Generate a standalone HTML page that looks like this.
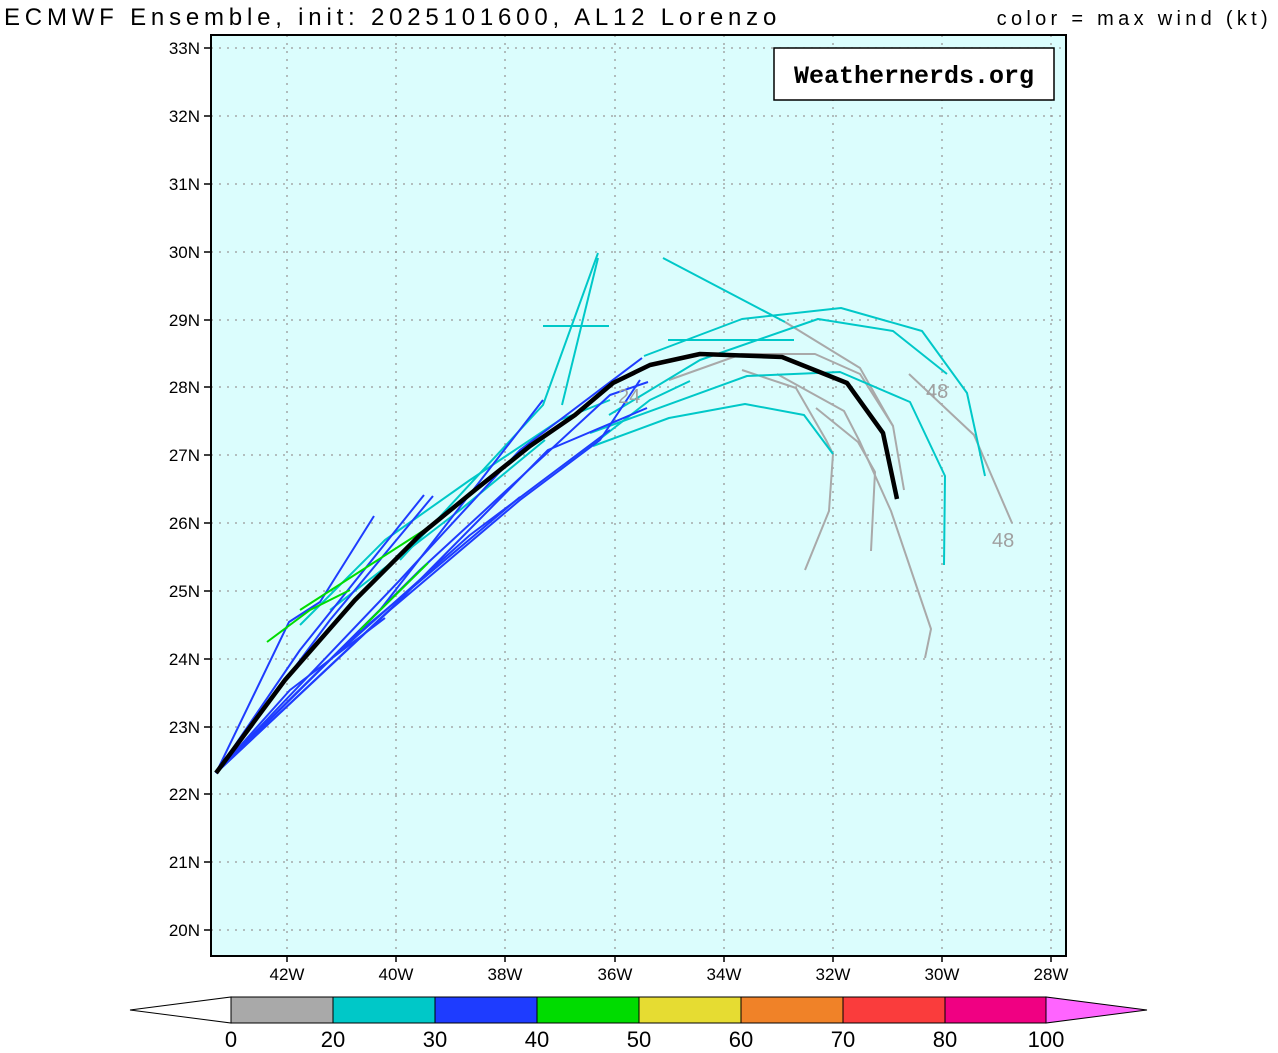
<!DOCTYPE html><html><head><style>body{margin:0;background:#fff}svg{display:block}</style></head><body>
<svg width="1278" height="1053" xmlns="http://www.w3.org/2000/svg" font-family="Liberation Sans, sans-serif">
<rect width="1278" height="1053" fill="#fff"/>
<text x="4" y="25" font-size="24" letter-spacing="4.8" fill="#000">ECMWF Ensemble, init: 2025101600, AL12 Lorenzo</text>
<text x="1272" y="25" font-size="20" letter-spacing="4.3" text-anchor="end" fill="#000">color = max wind (kt)</text>
<rect x="211" y="35" width="855" height="921" fill="#dbfdfd"/>
<g stroke="#999" stroke-width="1.3" stroke-dasharray="2,6">
<path d="M287 35V956M396 35V956M505 35V956M615 35V956M724 35V956M833 35V956M942 35V956M1051 35V956"/>
<path d="M211 48H1066M211 116H1066M211 184H1066M211 252H1066M211 320H1066M211 387H1066M211 455H1066M211 523H1066M211 591H1066M211 659H1066M211 727H1066M211 794H1066M211 862H1066M211 930H1066"/>
</g>
<g fill="none" stroke-width="2" stroke-linejoin="round">
<g stroke="#a9a9a9">
<polyline points="669,380 742,354 815,354 860,374 893,426 904,490"/>
<polyline points="742,370 796,388 826,440 833,454 829,511 805,570"/>
<polyline points="777,374 844,411 860,442 891,511 931,629 925,658"/>
<polyline points="816,408 858,442 875,472 871,551"/>
<polyline points="909,374 974,435 1012,523"/>
<polyline points="785,322 860,368 893,426"/>
</g>
<g stroke="#00c8c8">
<polyline points="663,258 785,322"/>
<polyline points="644,356 742,319 841,308 922,331 967,393 985,476"/>
<polyline points="609,415 700,360 818,319 893,331 947,374"/>
<polyline points="590,433 747,376 840,372 910,402 945,476 944,565"/>
<polyline points="593,446 669,418 745,404 804,415 833,454"/>
<polyline points="560,470 650,400 690,381"/>
<polyline points="400,560 543,405 598,253"/>
<polyline points="562,405 598,258"/>
<polyline points="543,326 609,326"/><polyline points="668,340 794,340"/>
<polyline points="300,625 385,540 470,480 560,420 610,400"/>
<polyline points="330,610 460,510 545,440"/>
</g>
<g stroke="#1e3cff">
<polyline points="216,773 289,622 320,602 374,516"/>
<polyline points="216,773 300,650 424,495"/>
<polyline points="216,773 330,620 433,496"/>
<polyline points="216,773 380,610 543,400"/>
<polyline points="216,773 400,580 520,450 642,358"/>
<polyline points="216,773 420,570 610,395 648,382"/>
<polyline points="216,773 390,610 520,500 600,440 640,380"/>
<polyline points="216,773 350,640 520,497"/>
<polyline points="216,773 400,600 548,450 647,408"/>
<polyline points="216,773 330,660 470,535 610,430"/>
<polyline points="216,773 290,690 385,618"/>
</g>
<g stroke="#00dc00">
<polyline points="267,642 310,610 350,590"/>
<polyline points="360,630 428,563"/>
<polyline points="300,610 440,520"/>
</g>
<polyline stroke="#000" stroke-width="4.5" points="216,773 285,680 355,600 420,535 475,490 530,446 575,415 613,383 650,365 700,354 782,357 847,383 883,433 897,499"/>
</g>
<g fill="#a0a0a0" font-size="20"><text x="618" y="403">24</text><text x="926" y="398">48</text><text x="992" y="547">48</text></g>
<rect x="211" y="35" width="855" height="921" fill="none" stroke="#000" stroke-width="2"/>
<rect x="774" y="48" width="280" height="52" fill="#fff" stroke="#000" stroke-width="1.5"/>
<text x="914" y="83" font-size="25" font-weight="bold" text-anchor="middle" font-family="Liberation Mono, monospace">Weathernerds.org</text>
<g font-size="17" text-anchor="end" fill="#000">
<text x="200" y="54">33N</text><text x="200" y="122">32N</text><text x="200" y="190">31N</text><text x="200" y="258">30N</text><text x="200" y="326">29N</text><text x="200" y="393">28N</text><text x="200" y="461">27N</text><text x="200" y="529">26N</text><text x="200" y="597">25N</text><text x="200" y="665">24N</text><text x="200" y="733">23N</text><text x="200" y="800">22N</text><text x="200" y="868">21N</text><text x="200" y="936">20N</text>
</g>
<g stroke="#000" stroke-width="1.5"><path d="M204 48H211M204 116H211M204 184H211M204 252H211M204 320H211M204 387H211M204 455H211M204 523H211M204 591H211M204 659H211M204 727H211M204 794H211M204 862H211M204 930H211M287 956V962M396 956V962M505 956V962M615 956V962M724 956V962M833 956V962M942 956V962M1051 956V962"/></g>
<g font-size="17" text-anchor="middle">
<text x="287" y="980">42W</text><text x="396" y="980">40W</text><text x="505" y="980">38W</text><text x="615" y="980">36W</text><text x="724" y="980">34W</text><text x="833" y="980">32W</text><text x="942" y="980">30W</text><text x="1051" y="980">28W</text>
</g>
<g stroke="#000" stroke-width="1">
<polygon points="231,997 231,1023 130,1010" fill="#fff"/>
<rect x="231" y="997" width="102" height="26" fill="#a9a9a9"/>
<rect x="333" y="997" width="102" height="26" fill="#00c8c8"/>
<rect x="435" y="997" width="102" height="26" fill="#1e3cff"/>
<rect x="537" y="997" width="102" height="26" fill="#00dc00"/>
<rect x="639" y="997" width="102" height="26" fill="#e6dc32"/>
<rect x="741" y="997" width="102" height="26" fill="#f08228"/>
<rect x="843" y="997" width="102" height="26" fill="#fa3c3c"/>
<rect x="945" y="997" width="101" height="26" fill="#f00082"/>
<polygon points="1046,997 1046,1023 1147,1010" fill="#ff64ff"/>
</g>
<g font-size="22" text-anchor="middle">
<text x="231" y="1047">0</text><text x="333" y="1047">20</text><text x="435" y="1047">30</text><text x="537" y="1047">40</text><text x="639" y="1047">50</text><text x="741" y="1047">60</text><text x="843" y="1047">70</text><text x="945" y="1047">80</text><text x="1046" y="1047">100</text>
</g>
</svg></body></html>
